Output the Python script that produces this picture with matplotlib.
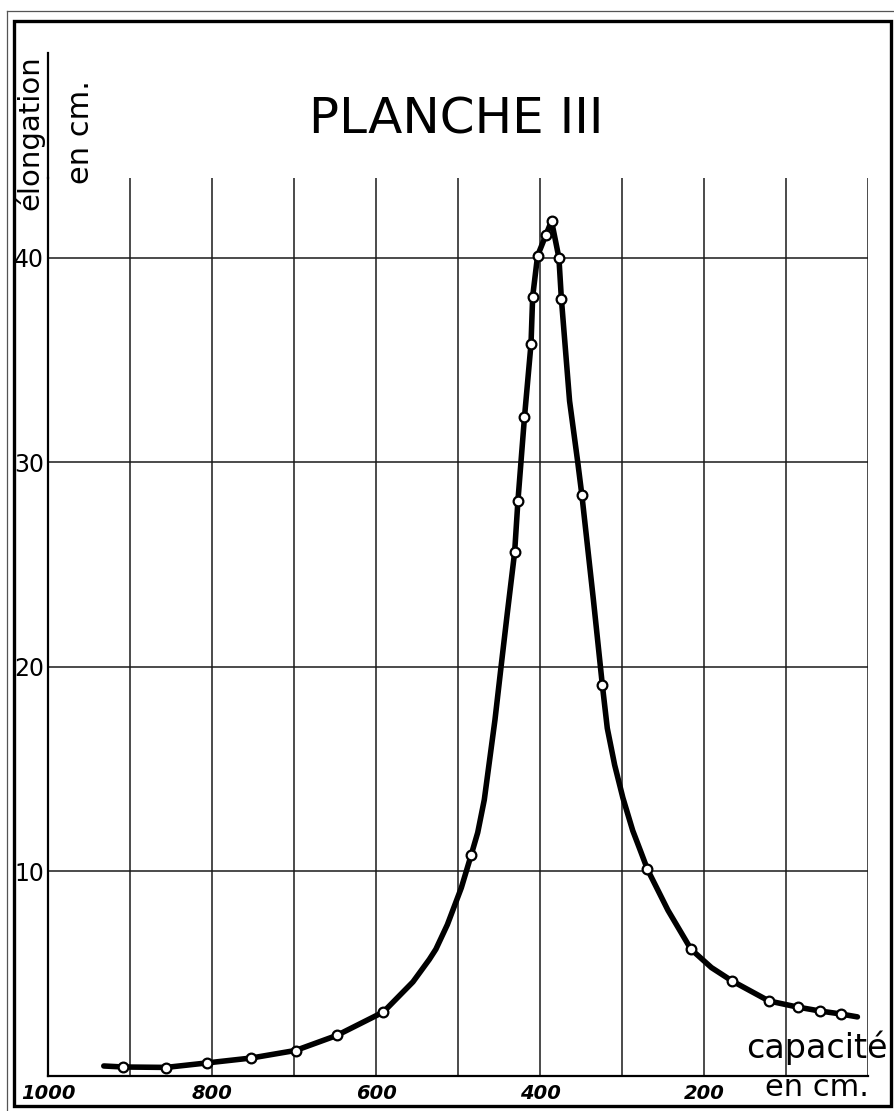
import matplotlib
matplotlib.use("Agg")
import matplotlib.pyplot as plt
from matplotlib.lines import Line2D
from matplotlib.patches import Rectangle
from matplotlib.transforms import ScaledTranslation

# points mesurés (capacité en cm, élongation en cm)
capacite = [908, 856, 806, 752, 698, 648, 591, 484, 431, 427, 419, 411, 409,
            403, 393, 386, 377, 374, 349, 324, 269, 216, 166, 121, 86, 59, 33]
elongation = [0.44, 0.39, 0.64, 0.88, 1.22, 2.0, 3.13, 10.8, 25.6, 28.1, 32.2,
              35.8, 38.1, 40.1, 41.1, 41.8, 40.0, 38.0, 28.4, 19.1, 10.1, 6.2,
              4.65, 3.67, 3.37, 3.18, 3.03]

courbe_x = [932, 908, 856, 806, 752, 698, 648, 591, 555, 535, 527, 513, 496,
            484, 476, 468, 455, 448, 440, 431, 427, 419, 411, 409, 403, 393,
            386, 377, 374, 364, 354, 349, 335, 324, 318, 309, 299, 287, 277,
            269, 244, 216, 191, 166, 121, 86, 59, 33, 13]
courbe_y = [0.49, 0.44, 0.42, 0.64, 0.88, 1.25, 1.98, 3.13, 4.6, 5.7, 6.2, 7.4,
            9.2, 10.8, 11.9, 13.5, 17.4, 19.85, 22.6, 25.6, 28.1, 32.2, 35.8,
            38.1, 40.1, 41.1, 41.8, 40.0, 38.0, 33.0, 30.0, 28.4, 23.3, 19.1,
            17.0, 15.2, 13.6, 12.0, 10.95, 10.1, 8.1, 6.2, 5.3, 4.65, 3.67,
            3.37, 3.18, 3.03, 2.89]

x_grid = [900, 800, 700, 600, 500, 400, 300, 200, 100, 0]
y_grid = [10, 20, 30, 40]
x_labels = [1000, 800, 600, 400, 200]
y_labels = [10, 20, 30, 40]


def draw_frame(fig):
    fig.add_artist(Rectangle((0.0157, 0.0045), 0.981, 0.9765, transform=fig.transFigure,
                             fill=False, lw=2.4, ec="black"))
    fig.add_artist(Line2D([0.0078, 0.0078], [0.0, 0.990], transform=fig.transFigure,
                          lw=0.9, color="#555555"))
    fig.add_artist(Line2D([0.0078, 0.999], [0.990, 0.990], transform=fig.transFigure,
                          lw=0.9, color="#555555"))


def plot_planche():
    fig = plt.figure(figsize=(8.94, 11.11), dpi=100)
    ax = fig.add_axes([0.0537, 0.0315, 0.9173, 0.8083])

    for x in x_grid:
        ax.axvline(x, color="#1a1a1a", lw=1.1, zorder=1)
    for y in y_grid:
        ax.axhline(y, color="#1a1a1a", lw=1.1, zorder=1)

    ax.plot(courbe_x, courbe_y, color="black", lw=4.0, solid_joinstyle="round",
            solid_capstyle="round", zorder=3)
    ax.plot(capacite, elongation, "o", ms=7, mfc="white", mec="black", mew=1.6, zorder=4)

    ax.set_xlim(1000, 0)
    ax.set_ylim(0, 43.9)
    for s in ["top", "right"]:
        ax.spines[s].set_visible(False)
    ax.spines["left"].set_linewidth(1.6)
    ax.spines["bottom"].set_linewidth(1.6)
    ax.plot([1000, 1000], [43.9, 50.0], color="black", lw=1.6, clip_on=False)

    ax.set_xticks(x_labels)
    ax.set_xticklabels([str(v) for v in x_labels], fontsize=14, fontstyle="italic",
                       fontweight="bold")
    shift = ScaledTranslation(5 / 100, 0, fig.dpi_scale_trans)
    for lab in ax.get_xticklabels():
        lab.set_transform(lab.get_transform() + shift)
    ax.set_yticks(y_labels)
    ax.set_yticklabels([str(v) for v in y_labels], fontsize=17)
    ax.tick_params(axis="x", length=0, pad=6)
    ax.tick_params(axis="y", length=0, pad=3)

    fig.text(0.51, 0.892, "PLANCHE III", fontsize=36, ha="center", va="center")
    fig.text(0.033, 0.881, "élongation", fontsize=21, rotation=90, ha="center", va="center")
    fig.text(0.090, 0.881, "en cm.", fontsize=22, rotation=90, ha="center", va="center")
    fig.text(0.914, 0.057, "capacité", fontsize=24, ha="center", va="center")
    fig.text(0.914, 0.021, "en cm.", fontsize=22, ha="center", va="center")

    draw_frame(fig)
    fig.savefig("out.png", dpi=100, facecolor="white")


plot_planche()
